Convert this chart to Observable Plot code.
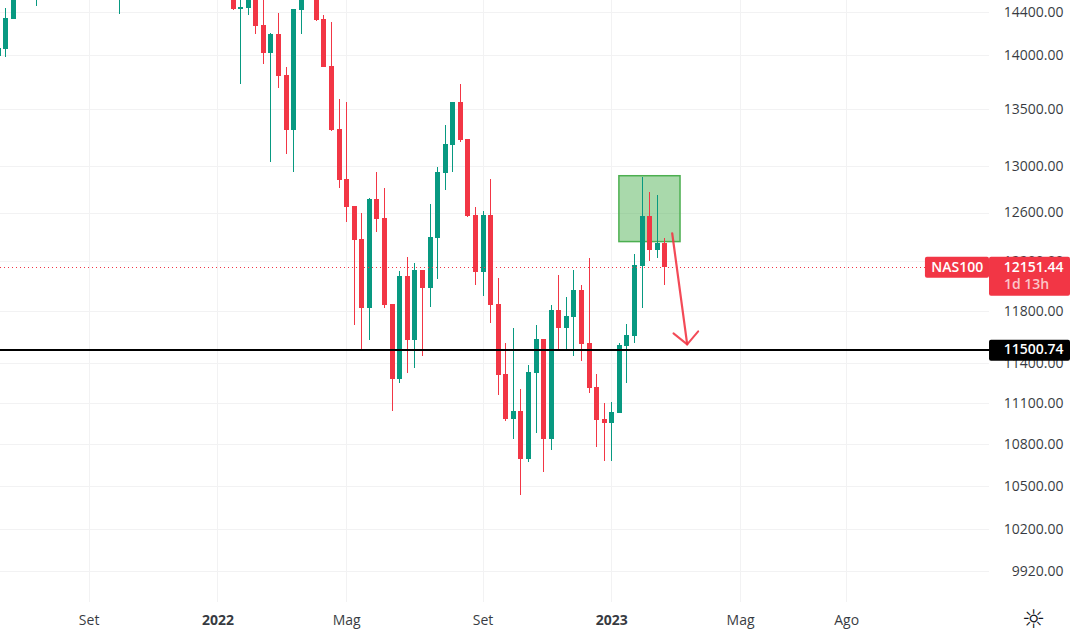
<!DOCTYPE html>
<html>
<head>
<meta charset="utf-8">
<script src="https://cdn.jsdelivr.net/npm/d3@7"></script>
<script src="https://cdn.jsdelivr.net/npm/@observablehq/plot@0.6"></script>
<style>
html,body{margin:0;padding:0;background:#fff}
svg{display:block}
</style>
</head>
<body>
<div id="chart"></div>
<script>
// weekly candles (index = weeks)
const weeks = [-1,0,1,4,15,30,31,32,33,34,35,36,37,38,39,41,42,43,44,45,46,47,48,49,50,51,52,53,54,55,56,57,58,59,60,61,62,63,64,65,66,67,68,69,70,71,72,73,74,75,76,77,78,79,80,81,82,83,84,85,86,87];
const opens = [13988,14055,14338,14620,14620,14711,14433,14443,14600,14281,14015,14195,13812,13315,14424,14620,14338,13895,13324,12887,12656,12381,11824,12715,12556,11855,11278,12079,11574,12128,11983,12389,12939,13181,13564,13235,12581,12112,12581,11855,11315,10980,11039,10691,11323,11582,10834,11808,11668,11753,11967,11551,11217,10980,10951,11024,11527,11605,12160,12572,12289,12347];
const highs = [14062,14443,14711,14711,14711,14711,14711,14711,14711,14711,14205,14395,13886,14433,14711,14711,14376,14310,13591,13564,12656,12597,12723,12947,12809,11855,12120,12233,12184,12128,12673,12990,13360,13564,13729,13235,12648,12614,12887,12063,11551,11668,11202,11383,11691,11582,11847,12087,11910,12128,12007,12225,11315,11097,11104,11551,11699,12257,12904,12775,12749,12389];
const lows = [13988,13981,14338,14462,14386,14424,13729,14376,14195,13914,13034,13693,13103,12947,14195,14319,13886,13306,12809,12522,11691,11488,11574,12439,11824,11039,11247,11323,11360,11451,11831,12055,12792,12947,13208,12564,12007,11919,11707,11157,10966,10834,10437,10670,10878,10599,10754,11496,11504,11451,11413,11172,10776,10677,10677,11024,11247,11551,11824,12200,12225,12007];
const closes = [14062,14348,14711,14700,14700,14433,14452,14600,14271,14015,14195,13803,13315,14433,14620,14329,13886,13315,12878,12648,12372,11824,12715,12547,11847,11278,12079,11574,12128,11983,12397,12947,13190,13564,13226,12572,12112,12581,11847,11308,10980,11039,10691,11330,11582,10834,11808,11668,11761,11967,11543,11210,10973,10951,11031,11535,11613,12168,12572,12289,12347,12151.44];

const priceTicks = [14400,14000,13500,13000,12600,12200,11800,11400,11100,10800,10500,10200,9920];
const timeTicks = [11,28,45,63,80,97,111];
const timeLabels = ["Set","2022","Mag","Set","2023","Mag","Ago"];
const timeBold = [false,true,false,false,true,false,false];

const lastPrice = 12151.44;
const levelPrice = 11500.74;
const symbolName = "NAS100";
const countdown = "1d 13h";

// annotations, in week / price units
const zone = [{x1:81,x2:89.07,y1:12358,y2:12913}];
const arrowShaft = [{x:87.97,y:12431},{x:89.95,y:11543}];
const arrowHead = [{x:88.14,y:11628},{x:89.95,y:11543},{x:91.4,y:11644}];

const axisEdge = 129.86, viewEnd = 140.55, viewStart = -0.7, tagStart = 121.4;
const redTags = [
  {x1:tagStart,x2:axisEdge,y1:12063,y2:12233},
  {x1:axisEdge,x2:viewEnd,y1:11919,y2:12233}
];
const blackTag = [{x1:axisEdge,x2:viewEnd,y1:11413,y2:11574}];

const green = "#089981", red = "#f23645", gridColor = "#f2f2f3", textColor = "#131722";
const font = "'Open Sans', Arial, sans-serif";

const candles = weeks.map((w,i)=>({w,o:opens[i],h:highs[i],l:lows[i],c:closes[i],dir:closes[i]>=opens[i]?"up":"down"}));
const ticks = timeTicks.map((w,i)=>({w,label:timeLabels[i],bold:timeBold[i]}));

const plot = Plot.plot({
  width:1070,height:636,
  marginTop:0,marginLeft:0,marginRight:0,marginBottom:34,
  style:{fontFamily:font,background:"#fff"},
  x:{domain:[viewStart,viewEnd],range:[0,1070],axis:null},
  y:{type:"log",domain:[9717,14519],range:[602,0],axis:null},
  color:{domain:["up","down"],range:[green,red]},
  marks:[
    Plot.ruleX(timeTicks,{x:d=>d,stroke:gridColor,strokeWidth:1,shapeRendering:"crispEdges"}),
    Plot.ruleY(priceTicks,{y:d=>d,x1:viewStart,x2:axisEdge,stroke:gridColor,strokeWidth:1,shapeRendering:"crispEdges"}),
    Plot.rect(zone,{x1:"x1",x2:"x2",y1:"y1",y2:"y2",fill:"#4caf50",fillOpacity:0.48,stroke:"#4caf50",strokeWidth:1.5}),
    Plot.ruleX(candles,{x:"w",y1:"l",y2:"h",stroke:"dir",strokeWidth:1,shapeRendering:"crispEdges"}),
    Plot.ruleX(candles,{x:"w",y1:"o",y2:"c",stroke:"dir",strokeWidth:5,shapeRendering:"crispEdges"}),
    Plot.ruleY([lastPrice],{y:d=>d,x1:viewStart,x2:tagStart,stroke:red,strokeWidth:1,strokeDasharray:"1,3",shapeRendering:"crispEdges"}),
    Plot.ruleY([levelPrice],{y:d=>d,x1:viewStart,x2:axisEdge,stroke:"#000",strokeWidth:2,shapeRendering:"crispEdges"}),
    Plot.line(arrowShaft,{x:"x",y:"y",stroke:red,strokeWidth:2.2,strokeOpacity:0.9}),
    Plot.line(arrowHead,{x:"x",y:"y",stroke:red,strokeWidth:2,strokeOpacity:0.9}),
    Plot.text(priceTicks,{y:d=>d,text:d=>d3.format(".2f")(d),frameAnchor:"right",textAnchor:"end",dx:-7,fill:textColor,fontSize:14,opacity:0.85}),
    Plot.rect(redTags,{x1:"x1",x2:"x2",y1:"y1",y2:"y2",fill:red,rx:2}),
    Plot.rect(blackTag,{x1:"x1",x2:"x2",y1:"y1",y2:"y2",fill:"#000",rx:2}),
    Plot.text([lastPrice],{y:d=>d,text:d=>d3.format(".2f")(d),frameAnchor:"right",textAnchor:"end",dx:-7,fill:"#fff",fontSize:14,fontWeight:600}),
    Plot.text([symbolName],{x:tagStart+4.2,y:lastPrice,text:d=>d,fill:"#fff",fontSize:14,fontWeight:600}),
    Plot.text([countdown],{x:axisEdge+1.9,y:12011,text:d=>d,textAnchor:"start",fill:"#fff",fillOpacity:0.72,fontSize:14,fontWeight:600}),
    Plot.text([levelPrice],{y:d=>d,text:d=>d3.format(".2f")(d),frameAnchor:"right",textAnchor:"end",dx:-7,fill:"#fff",fontSize:14,fontWeight:600}),
    Plot.text(ticks.filter(d=>!d.bold),{x:"w",text:"label",frameAnchor:"bottom",dy:22,fill:textColor,fontSize:14,opacity:0.85}),
    Plot.text(ticks.filter(d=>d.bold),{x:"w",text:"label",frameAnchor:"bottom",dy:22,fill:textColor,fontSize:14,fontWeight:"bold",opacity:0.85}),
    Plot.text(["☼"],{x:135.7,frameAnchor:"bottom",dy:25,text:d=>d,fill:textColor,fontSize:26,fontFamily:"'DejaVu Sans'"})
  ]
});
document.getElementById("chart").appendChild(plot);
</script>
</body>
</html>
